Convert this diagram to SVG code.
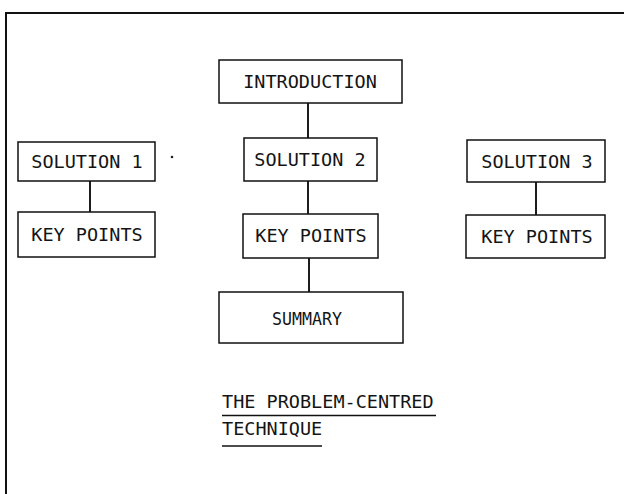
<svg xmlns="http://www.w3.org/2000/svg" width="624" height="494" viewBox="0 0 624 494">
  <style>
    .box { fill: #ffffff; stroke: #111111; stroke-width: 1.5; }
    .lbl { font-family: "DejaVu Sans Mono", "Liberation Mono", monospace; font-size: 18.5px; fill: #141414; text-anchor: middle; }
    .ttl { font-family: "DejaVu Sans Mono", "Liberation Mono", monospace; font-size: 18.5px; fill: #141414; }
    .wire { stroke: #111111; stroke-width: 1.9; fill: none; }
    .rule { stroke: #111111; stroke-width: 1.6; fill: none; }
  </style>

  <rect width="624" height="494" fill="#ffffff"/>

  <!-- page frame: top and left edges -->
  <path d="M6,494 V13 H624" fill="none" stroke="#111111" stroke-width="2"/>

  <!-- connectors -->
  <g id="connectors">
    <line class="wire" x1="308" y1="103" x2="308" y2="138"/>
    <line class="wire" x1="308" y1="181" x2="308" y2="214"/>
    <line class="wire" x1="309" y1="258" x2="309" y2="292"/>
    <line class="wire" x1="90" y1="181" x2="90" y2="212"/>
    <line class="wire" x1="536" y1="182" x2="536" y2="215"/>
  </g>

  <g id="introduction">
    <rect class="box" x="219" y="60" width="183" height="43"/>
    <text class="lbl" x="310" y="88">INTRODUCTION</text>
  </g>

  <g id="solution-1">
    <rect class="box" x="18" y="142" width="137" height="39"/>
    <text class="lbl" x="87" y="168">SOLUTION 1</text>
  </g>
  <g id="key-points-1">
    <rect class="box" x="18" y="212" width="137" height="45"/>
    <text class="lbl" x="87" y="241">KEY POINTS</text>
  </g>

  <g id="solution-2">
    <rect class="box" x="244" y="138" width="133" height="43"/>
    <text class="lbl" x="310" y="166">SOLUTION 2</text>
  </g>
  <g id="key-points-2">
    <rect class="box" x="243" y="214" width="135" height="44"/>
    <text class="lbl" x="311" y="242">KEY POINTS</text>
  </g>
  <g id="summary">
    <rect class="box" x="219" y="292" width="184" height="51"/>
    <text class="lbl" x="307" y="325" textLength="70" lengthAdjust="spacingAndGlyphs">SUMMARY</text>
  </g>

  <g id="solution-3">
    <rect class="box" x="467" y="140" width="138" height="42"/>
    <text class="lbl" x="537" y="168">SOLUTION 3</text>
  </g>
  <g id="key-points-3">
    <rect class="box" x="466" y="215" width="139" height="43"/>
    <text class="lbl" x="537" y="243">KEY POINTS</text>
  </g>

  <circle cx="172" cy="157" r="1.3" fill="#222222"/>

  <!-- caption -->
  <g id="caption">
    <text class="ttl" x="222" y="408">THE PROBLEM-CENTRED</text>
    <line class="rule" x1="222" y1="415.5" x2="436" y2="415.5"/>
    <text class="ttl" x="222" y="435">TECHNIQUE</text>
    <line class="rule" x1="222" y1="446" x2="322" y2="446"/>
  </g>
</svg>
